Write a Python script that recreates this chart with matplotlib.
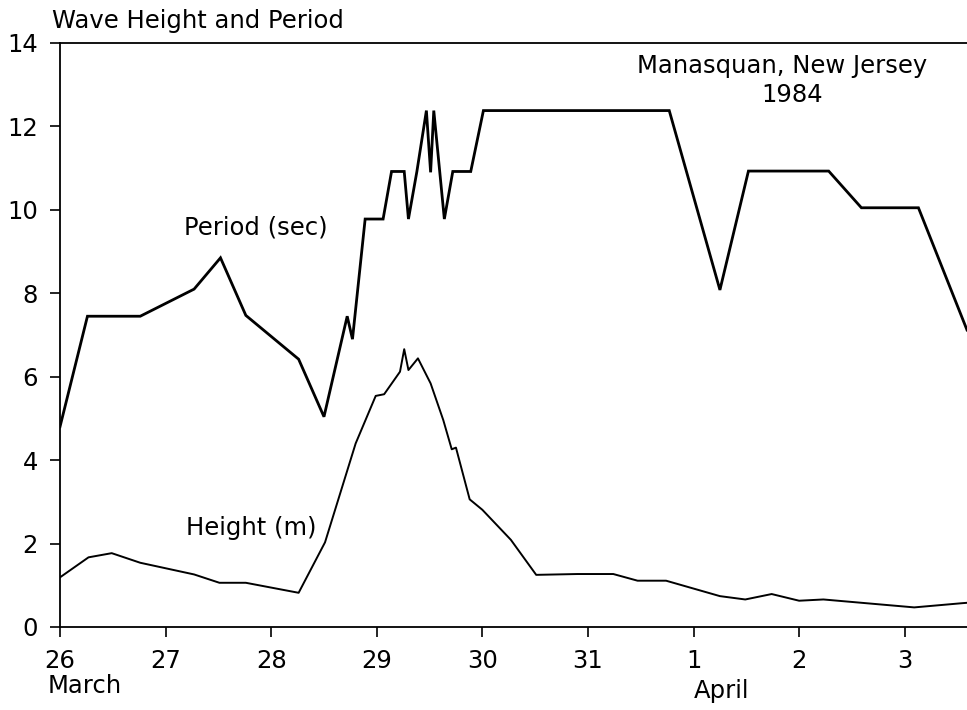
import matplotlib
matplotlib.use("Agg")
import matplotlib.pyplot as plt
import matplotlib.transforms as mtransforms

# Days since 26 March 1984 (0 = March 26)
period_day = [0.00, 0.26, 0.76, 1.27, 1.52, 1.76, 2.26, 2.50, 2.72, 2.77, 2.89, 3.06,
              3.14, 3.26, 3.30, 3.38, 3.47, 3.51, 3.54, 3.64, 3.72, 3.89, 4.01, 5.77,
              6.25, 6.52, 7.28, 7.59, 8.13, 8.59]
period_sec = [4.80, 7.45, 7.45, 8.10, 8.85, 7.47, 6.42, 5.04, 7.45, 6.90, 9.78, 9.78,
              10.92, 10.92, 9.78, 10.92, 12.38, 10.90, 12.38, 9.78, 10.92, 10.92, 12.38, 12.38,
              8.08, 10.93, 10.93, 10.05, 10.05, 7.12]

height_day = [0.00, 0.27, 0.49, 0.76, 1.27, 1.51, 1.76, 2.26, 2.51, 2.80, 2.99, 3.07,
              3.22, 3.26, 3.30, 3.39, 3.51, 3.63, 3.71, 3.75, 3.88, 4.00, 4.27, 4.51,
              4.90, 5.24, 5.47, 5.74, 6.25, 6.49, 6.74, 7.00, 7.23, 8.09, 8.54, 8.59]
height_m = [1.19, 1.67, 1.77, 1.54, 1.26, 1.06, 1.06, 0.82, 2.03, 4.40, 5.54, 5.58,
            6.12, 6.66, 6.16, 6.44, 5.84, 4.96, 4.26, 4.30, 3.06, 2.81, 2.09, 1.25,
            1.27, 1.27, 1.11, 1.11, 0.74, 0.66, 0.79, 0.63, 0.66, 0.47, 0.57, 0.58]

tick_pos = [0, 1, 2, 3, 4, 5, 6, 7, 8]
tick_labels = ["26", "27", "28", "29", "30", "31", "1", "2", "3"]
y_ticks = [0, 2, 4, 6, 8, 10, 12, 14]

plt.rcParams['font.family'] = ['DejaVu Sans']

FS = 17.5

fig = plt.figure(figsize=(9.67, 7.10), dpi=100)
ax = fig.add_axes([60 / 967, 1 - 627 / 710, 1 - 60 / 967, (627 - 43) / 710])

ax.plot(period_day, period_sec, color='black', lw=2.0, solid_joinstyle='miter')
ax.plot(height_day, height_m, color='black', lw=1.4)

ax.set_xlim(0, 8.59)
ax.set_ylim(0, 14)
ax.set_xticks(tick_pos)
ax.set_xticklabels(tick_labels)
ax.set_yticks(y_ticks)
ax.tick_params(axis='both', direction='out', length=7, width=1.2, labelsize=FS, color='black')
ax.tick_params(axis='x', pad=9)
ax.tick_params(axis='y', pad=9)
ax.spines['right'].set_visible(False)
for s in ['left', 'bottom', 'top']:
    ax.spines[s].set_linewidth(1.3)

ax.text(1.17, 9.57, "Period (sec)", fontsize=FS, ha='left', va='center')
ax.text(1.19, 2.37, "Height (m)", fontsize=FS, ha='left', va='center')
ax.text(6.84, 13.45, "Manasquan, New Jersey", fontsize=FS, ha='center', va='center')
ax.text(6.93, 12.76, "1984", fontsize=FS, ha='center', va='center')

fig.text(52 / 967, 1 - 21 / 710, "Wave Height and Period", fontsize=FS, ha='left', va='center')

trans = mtransforms.blended_transform_factory(ax.transData, fig.transFigure)
ax.text(-0.12, 1 - 686 / 710, "March", fontsize=FS, ha='left', va='center', transform=trans)
ax.text(6.0, 1 - 691 / 710, "April", fontsize=FS, ha='left', va='center', transform=trans)

fig.savefig("out.png", dpi=100)
